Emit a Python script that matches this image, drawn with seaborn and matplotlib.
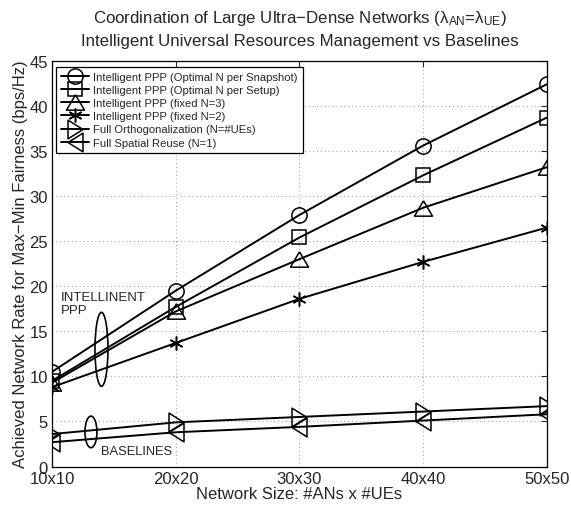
import matplotlib
matplotlib.use("Agg")
import matplotlib.pyplot as plt
from matplotlib.patches import Ellipse
import seaborn as sns
import pandas as pd
import numpy as np

categories = ["10x10", "20x20", "30x30", "40x40", "50x50"]
ppp_snapshot = [10.5, 19.5, 27.9, 35.6, 42.4]
ppp_setup = [9.5, 17.7, 25.4, 32.3, 38.7]
ppp_fixed3 = [9.3, 17.2, 23.0, 28.7, 33.2]
ppp_fixed2 = [8.8, 13.7, 18.6, 22.7, 26.5]
full_orth = [3.6, 4.9, 5.5, 6.1, 6.7]
full_reuse = [2.7, 3.8, 4.4, 5.1, 5.8]

series_names = [
    "Intelligent PPP (Optimal N per Snapshot)",
    "Intelligent PPP (Optimal N per Setup)",
    "Intelligent PPP (fixed N=3)",
    "Intelligent PPP (fixed N=2)",
    "Full Orthogonalization (N=#UEs)",
    "Full Spatial Reuse (N=1)",
]
series_values = [ppp_snapshot, ppp_setup, ppp_fixed3, ppp_fixed2, full_orth, full_reuse]

tri_up = [(0, 0.85), (-1, -0.85), (1, -0.85), (0, 0.85)]
tri_right = [(0.8, 0), (-0.8, 1), (-0.8, -1), (0.8, 0)]
tri_left = [(-0.8, 0), (0.8, 1), (0.8, -1), (-0.8, 0)]
markers = ["o", "s", tri_up, (6, 2, 0), tri_right, tri_left]
msizes = [11, 9.5, 13, 10, 13.5, 13.5]

sns.set_style("white")
plt.rcParams["font.family"] = ["Liberation Sans", "DejaVu Sans"]
plt.rcParams["mathtext.fontset"] = "custom"
plt.rcParams["mathtext.rm"] = "Liberation Sans"
plt.rcParams["mathtext.it"] = "Liberation Sans"

fig = plt.figure(figsize=(5.71, 5.06), dpi=100)
ax = fig.add_axes([0.091, 0.076, 0.867, 0.802])

xpos = list(range(len(categories)))
for name, vals, m, ms in zip(series_names, series_values, markers, msizes):
    df = pd.DataFrame({"x": xpos, "y": vals})
    sns.lineplot(data=df, x="x", y="y", ax=ax, color="black", linewidth=1.4,
                 marker=m, markersize=ms, markerfacecolor="none",
                 markeredgecolor="black", markeredgewidth=1.1, label=name)

ax.set_xlim(0, 4)
ax.set_ylim(0, 45)
ax.set_xticks(xpos)
ax.set_xticklabels(categories)
ax.set_yticks(np.arange(0, 46, 5))
ax.tick_params(axis="both", direction="in", labelsize=12, length=4, width=0.8,
               top=True, right=True, pad=3)
ax.grid(True, linestyle=(0, (1, 3)), color="#999999", linewidth=0.7)
for s in ax.spines.values():
    s.set_color("black")
    s.set_linewidth(0.9)

ax.set_xlabel("Network Size: #ANs x #UEs", fontsize=12, labelpad=0.5)
ax.set_ylabel("Achieved Network Rate for Max\u2212Min Fairness (bps/Hz)", fontsize=12, labelpad=1)
xc = 0.091 + 0.867 / 2
fig.text(xc, 0.964, r"Coordination of Large Ultra$-$Dense Networks ($\lambda_{\rm AN}$=$\lambda_{\rm UE}$)",
         ha="center", va="center", fontsize=12.2)
fig.text(xc, 0.917, "Intelligent Universal Resources Management vs Baselines",
         ha="center", va="center", fontsize=12.2)

leg = ax.legend(loc="upper left", bbox_to_anchor=(0.008, 0.985), borderaxespad=0,
                fontsize=8.1, frameon=True, fancybox=False, framealpha=1,
                edgecolor="black", handlelength=2.5, handletextpad=0.35,
                labelspacing=0.28, borderpad=0.45)
leg.get_frame().set_linewidth(0.9)

# annotations
ax.add_patch(Ellipse((0.40, 13.0), 0.105, 8.2, fill=False, edgecolor="black", linewidth=1.2))
ax.text(0.073, 18.1, "INTELLINENT\nPPP", fontsize=9.5, ha="left", va="center", linespacing=1.05)
ax.add_patch(Ellipse((0.315, 3.84), 0.097, 3.5, fill=False, edgecolor="black", linewidth=1.2))
ax.text(0.40, 1.77, "BASELINES", fontsize=9.3, ha="left", va="center")

fig.savefig("out.png", dpi=100)
